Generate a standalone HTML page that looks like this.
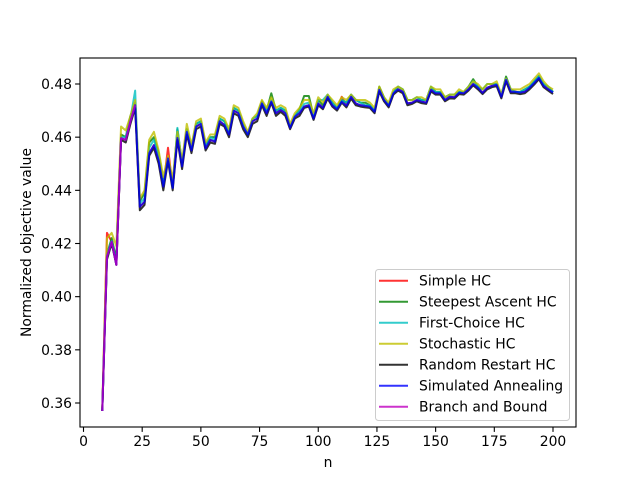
<!DOCTYPE html>
<html><head><meta charset="utf-8"><style>
body{margin:0;background:#fff}
svg text{font-family:"DejaVu Sans","Liberation Sans",sans-serif;fill:#000}
</style></head><body>
<svg id="chart" width="640" height="480" xmlns="http://www.w3.org/2000/svg">
<rect width="640" height="480" fill="#fff"/>
<g id="plot"></g>
<g id="axes"></g>
<g id="legend"></g>
</svg>
<script>
const nValues = [];
for (let n = 8; n <= 200; n += 2) nValues.push(n);
const xTicks = [0, 25, 50, 75, 100, 125, 150, 175, 200];
const yTicks = [0.36, 0.38, 0.40, 0.42, 0.44, 0.46, 0.48];
const yTickLabels = ["0.36", "0.38", "0.40", "0.42", "0.44", "0.46", "0.48"];
const seriesNames = ["Simple HC","Steepest Ascent HC","First-Choice HC","Stochastic HC","Random Restart HC","Simulated Annealing","Branch and Bound"];
const saVals = [0.357,0.415,0.4207,0.412,0.4596,0.459,0.466,0.472,0.4338,0.4357,0.454,0.457,0.4514,0.4414,0.452,0.4409,0.4597,0.449,0.462,0.455,0.464,0.465,0.4558,0.459,0.4583,0.466,0.4646,0.461,0.470,0.469,0.464,0.461,0.466,0.467,0.4727,0.469,0.4734,0.469,0.4702,0.469,0.4635,0.4677,0.469,0.4715,0.472,0.467,0.4727,0.471,0.4752,0.472,0.4706,0.4734,0.4718,0.4752,0.4727,0.472,0.4718,0.4715,0.4696,0.4778,0.474,0.4718,0.4765,0.478,0.4771,0.4727,0.473,0.474,0.4734,0.473,0.4778,0.4765,0.4765,0.474,0.4752,0.475,0.4767,0.4765,0.478,0.48,0.4786,0.4767,0.4786,0.4793,0.4797,0.4752,0.4816,0.4771,0.4771,0.4768,0.4771,0.4786,0.4804,0.4823,0.4793,0.478,0.4768];
const simpleVals = [0.357,0.424,0.4207,0.412,0.4596,0.459,0.466,0.472,0.4338,0.4357,0.454,0.457,0.4514,0.4414,0.456,0.4409,0.4597,0.449,0.462,0.455,0.464,0.465,0.4558,0.459,0.4583,0.466,0.4646,0.461,0.470,0.469,0.464,0.461,0.466,0.467,0.4727,0.469,0.4734,0.469,0.4702,0.469,0.4635,0.4677,0.469,0.4715,0.472,0.467,0.4727,0.471,0.4752,0.472,0.4706,0.4752,0.4718,0.4752,0.4727,0.472,0.4718,0.4715,0.4696,0.4778,0.474,0.4718,0.4765,0.478,0.4771,0.4727,0.473,0.474,0.4734,0.473,0.4778,0.4765,0.4765,0.474,0.4752,0.475,0.4767,0.4765,0.478,0.48,0.4786,0.4767,0.4786,0.4793,0.4797,0.4752,0.4816,0.4771,0.4771,0.4768,0.4771,0.4786,0.4804,0.4823,0.4793,0.478,0.4768];
const steepVals = [0.357,0.416,0.422,0.414,0.461,0.460,0.468,0.473,0.436,0.439,0.458,0.460,0.454,0.443,0.452,0.442,0.463,0.450,0.463,0.456,0.465,0.466,0.457,0.460,0.460,0.467,0.466,0.462,0.471,0.470,0.465,0.461,0.467,0.468,0.4735,0.470,0.4765,0.470,0.471,0.470,0.464,0.468,0.4705,0.4755,0.4755,0.468,0.474,0.472,0.476,0.473,0.471,0.474,0.473,0.476,0.474,0.473,0.473,0.472,0.470,0.479,0.475,0.472,0.477,0.479,0.478,0.474,0.474,0.475,0.474,0.474,0.479,0.477,0.477,0.475,0.476,0.476,0.477,0.477,0.479,0.4818,0.479,0.478,0.480,0.480,0.480,0.476,0.4828,0.478,0.477,0.477,0.478,0.479,0.481,0.483,0.480,0.479,0.477];
const firstVals = [0.357,0.416,0.421,0.413,0.460,0.460,0.467,0.4775,0.435,0.437,0.456,0.459,0.453,0.442,0.452,0.441,0.4635,0.450,0.463,0.456,0.465,0.466,0.457,0.460,0.459,0.467,0.466,0.462,0.471,0.470,0.465,0.461,0.467,0.468,0.473,0.470,0.474,0.470,0.471,0.470,0.464,0.468,0.470,0.4725,0.473,0.468,0.474,0.474,0.476,0.473,0.471,0.474,0.473,0.476,0.474,0.473,0.472,0.472,0.470,0.478,0.475,0.472,0.477,0.479,0.478,0.474,0.474,0.475,0.474,0.474,0.479,0.477,0.477,0.475,0.476,0.476,0.477,0.477,0.479,0.481,0.479,0.478,0.480,0.480,0.480,0.476,0.482,0.478,0.477,0.477,0.478,0.479,0.481,0.483,0.480,0.479,0.477];
const stochVals = [0.358,0.422,0.424,0.419,0.464,0.4625,0.468,0.474,0.437,0.440,0.459,0.462,0.455,0.445,0.453,0.444,0.462,0.451,0.465,0.457,0.466,0.467,0.458,0.461,0.461,0.468,0.467,0.463,0.472,0.471,0.466,0.462,0.467,0.469,0.474,0.471,0.475,0.471,0.472,0.471,0.465,0.469,0.471,0.474,0.474,0.469,0.475,0.473,0.476,0.474,0.472,0.475,0.474,0.476,0.474,0.474,0.474,0.473,0.471,0.479,0.475,0.473,0.478,0.479,0.478,0.474,0.474,0.475,0.475,0.474,0.479,0.478,0.478,0.475,0.476,0.476,0.478,0.477,0.479,0.481,0.480,0.478,0.480,0.480,0.481,0.476,0.482,0.478,0.478,0.478,0.479,0.480,0.482,0.484,0.481,0.479,0.478];
const restartVals = [0.357,0.414,0.420,0.412,0.459,0.458,0.465,0.471,0.4325,0.4345,0.453,0.456,0.450,0.440,0.451,0.440,0.459,0.448,0.461,0.454,0.463,0.464,0.455,0.458,0.4575,0.465,0.464,0.460,0.469,0.468,0.463,0.460,0.465,0.466,0.472,0.468,0.473,0.468,0.4695,0.468,0.463,0.467,0.468,0.471,0.4715,0.4665,0.472,0.4705,0.4745,0.4715,0.470,0.473,0.4712,0.4745,0.472,0.4715,0.4712,0.471,0.469,0.4772,0.4735,0.4712,0.476,0.4775,0.4765,0.472,0.4725,0.4735,0.4728,0.4725,0.4772,0.476,0.476,0.4735,0.4746,0.4745,0.4762,0.476,0.4775,0.4795,0.478,0.4762,0.478,0.4788,0.4792,0.4746,0.481,0.4765,0.4765,0.4762,0.4765,0.478,0.4798,0.4818,0.4788,0.4775,0.4762];
const bbVals = [0.357,0.415,0.4207,0.412,0.4596,0.459,0.466,0.472];
const allSeries = [simpleVals, steepVals, firstVals, stochVals, restartVals, saVals, bbVals];
const colors = ["#ff0000","#008000","#00bfbf","#bfbf00","#000000","#0000ff","#bf00bf"];
const seriesKeys = ["simple-hc","steepest-ascent-hc","first-choice-hc","stochastic-hc","random-restart-hc","simulated-annealing","branch-and-bound"];

const L=80,R=576,T=58,B=427;
function xs(n){return 83.5 + n*(553-83.5)/200;}
function ys(v){return 403 - (v-0.36)*(403-84)/0.12;}
const NS="http://www.w3.org/2000/svg";
function mk(tag,attrs,parent){const e=document.createElementNS(NS,tag);for(const k in attrs)e.setAttribute(k,attrs[k]);parent.appendChild(e);return e;}
const plot=document.getElementById('plot'), axes=document.getElementById('axes'), legend=document.getElementById('legend');

allSeries.forEach((vals,i)=>{
  const pts=vals.map((v,j)=>xs(nValues[j]).toFixed(2)+","+ys(v).toFixed(2)).join(" ");
  const pl=mk('polyline',{points:pts,fill:"none",stroke:colors[i],"stroke-opacity":0.8,"stroke-width":2,"stroke-linejoin":"round"},plot);
  
  
});

const frame=mk('rect',{x:L,y:T,width:R-L,height:B-T,fill:"none",stroke:"#000","stroke-width":1.1},axes);


xTicks.forEach(t=>{
  const x=xs(t);
  mk('line',{x1:x,y1:B,x2:x,y2:B+4.9,stroke:"#000","stroke-width":1.1},axes);
  const tx=mk('text',{x:x,y:B+19,"text-anchor":"middle","font-size":"13.9px"},axes);
  tx.textContent=t;
  
  
});
yTicks.forEach((t,i)=>{
  const y=ys(t);
  mk('line',{x1:L,y1:y,x2:L-4.9,y2:y,stroke:"#000","stroke-width":1.1},axes);
  const tx=mk('text',{x:L-8,y:y+5,"text-anchor":"end","font-size":"13.9px"},axes);
  tx.textContent=yTickLabels[i];
  
  
});
const xl=mk('text',{x:(L+R)/2,y:467,"text-anchor":"middle","font-size":"13.9px"},axes);
xl.textContent="n";


const yl=mk('text',{x:0,y:0,"text-anchor":"middle","font-size":"13.9px",transform:"translate(31,"+((T+B)/2)+") rotate(-90)"},axes);
yl.textContent="Normalized objective value";



const lb=mk('rect',{x:375.5,y:269.5,width:194,height:151,rx:3,fill:"#fff","fill-opacity":0.8,stroke:"#ccc","stroke-width":1},legend);


seriesNames.forEach((nm,i)=>{
  const y=280.7+i*21;
  const g=mk('g',{},legend);
  
  
  mk('line',{x1:379,y1:y,x2:408,y2:y,stroke:colors[i],"stroke-opacity":0.8,"stroke-width":2},g);
  const t=mk('text',{x:419,y:y+5,"font-size":"13.9px"},g);
  t.textContent=nm;
});
</script>
</body></html>
